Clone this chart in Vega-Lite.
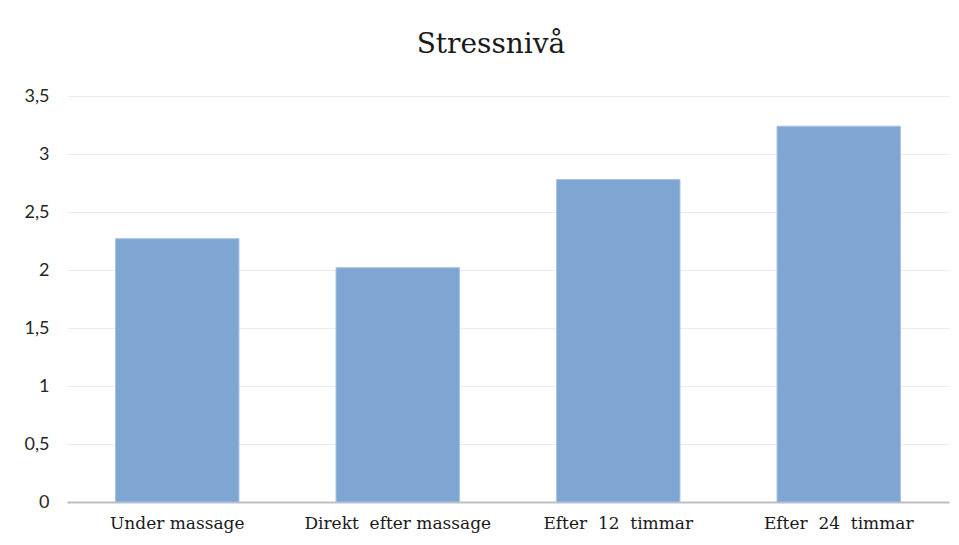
{
  "$schema": "https://vega.github.io/schema/vega-lite/v6.json",
  "autosize": "none",
  "width": 882,
  "height": 406,
  "padding": {"left": 67, "top": 96, "right": 10, "bottom": 43},
  "background": "white",
  "title": {
    "text": "Stressnivå",
    "font": "DejaVu Serif",
    "fontSize": 28,
    "fontWeight": "normal",
    "color": "#1a1a1a",
    "anchor": "middle",
    "dx": -17,
    "offset": 28
  },
  "data": {
    "values": [
      {"tid": "Under massage", "varde": 2.27},
      {"tid": "Direkt\u00a0 efter massage", "varde": 2.02},
      {"tid": "Efter\u00a0 12\u00a0 timmar", "varde": 2.78},
      {"tid": "Efter\u00a0 24\u00a0 timmar", "varde": 3.24}
    ]
  },
  "mark": {"type": "bar", "color": "#7fa6d2", "stroke": "#a9c3e2", "strokeWidth": 1},
  "encoding": {
    "x": {
      "field": "tid",
      "type": "nominal",
      "sort": null,
      "title": null,
      "scale": {"paddingInner": 0.44, "paddingOuter": 0.22},
      "axis": {
        "labelAngle": 0,
        "labelFont": "DejaVu Serif",
        "labelFontSize": 17,
        "labelColor": "#1a1a1a",
        "labelPadding": 13,
        "labelLimit": 400,
        "labelOverlap": false,
        "ticks": false,
        "domainColor": "#bfbfbf",
        "domainWidth": 2,
        "grid": false
      }
    },
    "y": {
      "field": "varde",
      "type": "quantitative",
      "title": null,
      "scale": {"domain": [0, 3.5], "nice": false},
      "axis": {
        "values": [0, 0.5, 1, 1.5, 2, 2.5, 3, 3.5],
        "labelExpr": "replace(format(datum.value, '~g'), '.', ',')",
        "labelFont": "Lato",
        "labelFontSize": 18,
        "labelColor": "#262626",
        "labelPadding": 18,
        "ticks": false,
        "domain": false,
        "grid": true,
        "gridColor": "#ececec",
        "gridWidth": 1
      }
    }
  },
  "config": {"view": {"stroke": null}}
}
